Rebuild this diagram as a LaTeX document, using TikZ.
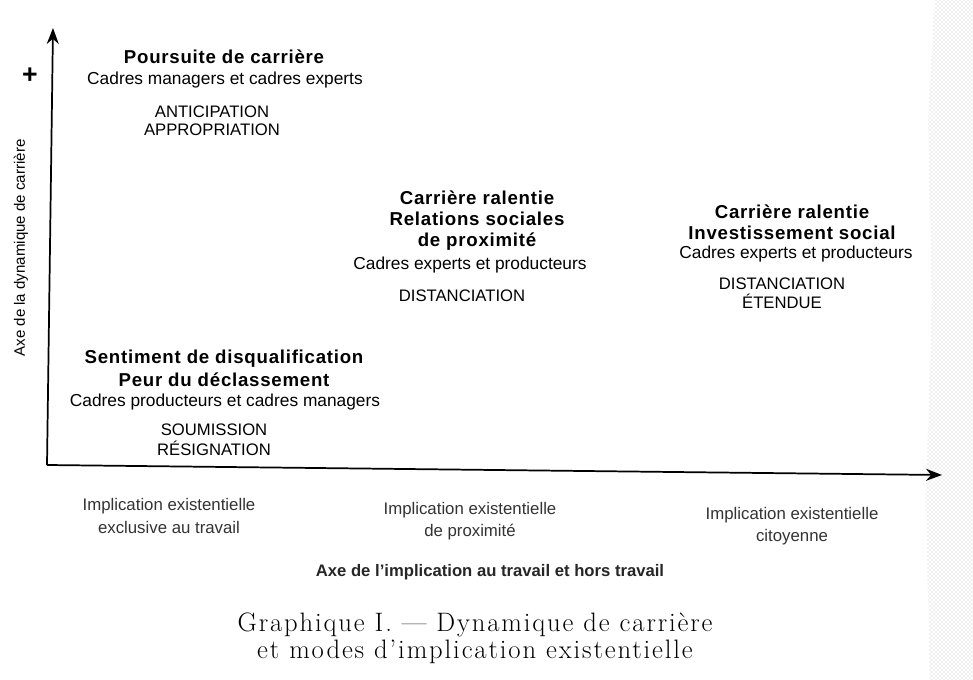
\documentclass[tikz,border=0pt]{standalone}
\usepackage{fontspec}
\setmainfont{Liberation Sans}
\newfontfamily\titrefont[LetterSpace=4]{Liberation Sans}
\newfontfamily\capfont[LetterSpace=7]{Latin Modern Roman}
\usetikzlibrary{patterns}
\usetikzlibrary{arrows,arrows.meta}
\tikzstyle{axis} = [line width=1.3pt,->,>={Stealth[length=12pt,width=9pt]}]
\tikzstyle{titre} = [align=center,inner sep=0,font=\titrefont\bfseries\fontsize{14}{15.75}\selectfont]
\tikzstyle{cadres} = [align=center,inner sep=0,font=\fontsize{13}{15}\selectfont]
\tikzstyle{mode} = [align=center,inner sep=0,font=\fontsize{12.5}{14.5}\selectfont]
\tikzstyle{tick} = [align=center,inner sep=0,font=\fontsize{12.6}{17}\selectfont,text=black!80]
\begin{document}
\begin{tikzpicture}[x=0.75pt,y=-0.75pt]
\useasboundingbox (0,0) rectangle (973,680);
\fill[white] (0,0) rectangle (973,680);
% grain du scan sur le bord droit
\fill[pattern=crosshatch dots,pattern color=black!25] (935,0)--(973,0)--(973,680)--(930,680)--(926,500)--(932,300)--(928,120)--cycle;
% axes
\coordinate (o) at (47,465);
\coordinate (ytop) at (53,28);
\coordinate (xend) at (942,475);
\draw[axis] (o)--(ytop);
\draw[axis] (o)--(xend);
\node (plus) at (30,76) {\fontsize{20}{20}\selectfont\bfseries +};
\node[rotate=90,inner sep=0,font=\fontsize{11.3}{12}\selectfont] (yaxe) at (21,248) {Axe de la dynamique de carrière};
% quadrants
\node[titre] (poursuite) at (224,57) {Poursuite de carrière};
\node[cadres] (poursuitec) at (225,80) {Cadres managers et cadres experts};
\node[mode,font=\fontsize{12.5}{13.5}\selectfont] (antic) at (212,121) {ANTICIPATION\\APPROPRIATION};
\node[titre] (ralentie) at (477,221) {Carrière ralentie\\Relations sociales\\de proximité};
\node[cadres] (ralentiec) at (470,265) {Cadres experts et producteurs};
\node[mode] (dist) at (462,296) {DISTANCIATION};
\node[titre] (social) at (792,222.5) {Carrière ralentie\\Investissement social};
\node[cadres] (socialc) at (796,254) {Cadres experts et producteurs};
\node[mode] (etendue) at (782,293) {DISTANCIATION\\ÉTENDUE};
\node[titre,font=\titrefont\bfseries\fontsize{14}{17}\selectfont] (disqual) at (224,368) {Sentiment de disqualification\\Peur du déclassement};
\node[cadres] (disqualc) at (225,402) {Cadres producteurs et cadres managers};
\node[mode,font=\fontsize{12.5}{15}\selectfont] (soumis) at (214,440) {SOUMISSION\\RÉSIGNATION};
% graduations
\node[tick] (exclu) at (169,516) {Implication existentielle\\exclusive au travail};
\node[tick] (proxi) at (470,521) {Implication existentielle\\de proximité};
\node[tick] (citoy) at (792,526) {Implication existentielle\\citoyenne};
\node[inner sep=0,font=\fontsize{12.5}{14}\selectfont\bfseries,text=black!85] (xaxe) at (490,572) {Axe de l’implication au travail et hors travail};
% legende
\node[align=center,inner sep=0,font=\capfont\fontsize{20}{20.5}\selectfont] (legende) at (475,638) {Graphique I. — Dynamique de carrière\\et modes d’implication existentielle};
\end{tikzpicture}
\end{document}
